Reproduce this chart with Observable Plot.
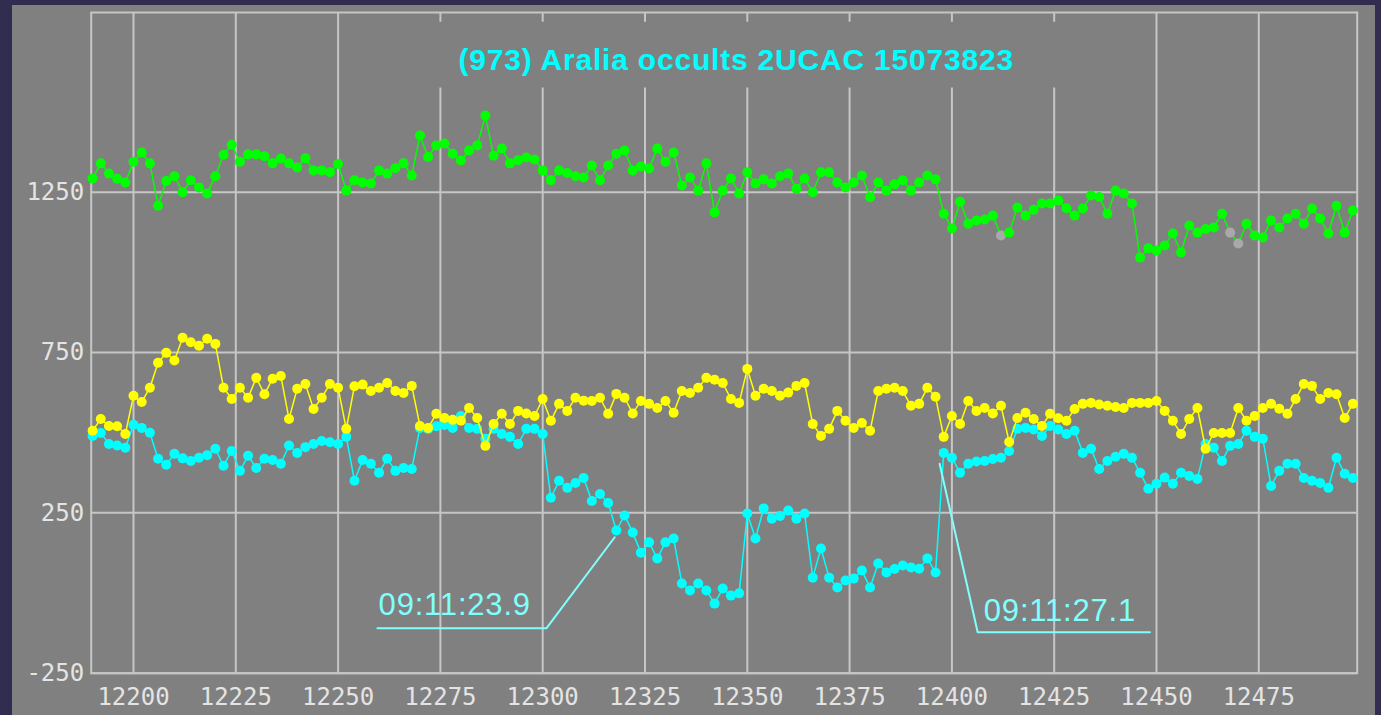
<!DOCTYPE html>
<html><head><meta charset="utf-8">
<script src="https://cdn.jsdelivr.net/npm/d3@7"></script>
<script src="https://cdn.jsdelivr.net/npm/@observablehq/plot@0.6"></script>
<style>
html,body{margin:0;padding:0;background:#302d50;width:1381px;height:715px;overflow:hidden}
#panel{position:absolute;left:12px;top:5px;width:1363px;height:710px;background:#808080}
</style></head><body><div id="panel"></div>
<script>
// frame numbers: first frame and step between readings
const frameStart = 12190;
const frameStep = 2;

const greenValues = [
  1293,1340,1308,1292,1280,1345,1374,1340,1208,1285,
  1300,1250,1287,1265,1246,1300,1367,1398,1345,1368,
  1368,1362,1340,1355,1340,1327,1356,1318,1318,1312,
  1338,1255,1287,1280,1277,1318,1308,1325,1340,1302,
  1427,1360,1396,1402,1370,1349,1380,1396,1489,1364,
  1386,1340,1350,1358,1352,1318,1287,1318,1310,1300,
  1296,1333,1287,1333,1370,1380,1318,1330,1324,1386,
  1345,1374,1271,1296,1255,1340,1187,1255,1293,1246,
  1312,1277,1290,1277,1300,1308,1261,1293,1250,1312,
  1312,1280,1265,1280,1302,1234,1280,1255,1275,1287,
  1255,1280,1302,1290,1183,1137,1220,1152,1162,1165,
  1177,1115,1124,1202,1177,1195,1215,1215,1224,1200,
  1177,1199,1240,1235,1183,1255,1246,1215,1046,1075,
  1068,1084,1121,1062,1146,1124,1135,1140,1183,1124,
  1090,1152,1115,1109,1162,1140,1168,1183,1152,1199,
  1168,1121,1208,1124,1193
];
const yellowValues = [
  506,543,521,520,496,615,596,640,718,749,
  725,796,782,771,793,777,640,605,640,609,
  671,620,668,677,543,637,652,574,609,652,
  640,512,645,650,630,640,655,630,624,646,
  521,515,559,546,540,537,577,546,459,527,
  559,527,568,560,552,605,537,590,568,609,
  600,599,609,559,621,609,560,599,590,577,
  599,562,630,624,640,671,665,655,605,593,
  699,615,637,630,615,625,646,655,527,490,
  512,568,537,515,530,506,630,637,640,630,
  584,590,640,612,487,552,527,599,568,577,
  560,584,471,546,562,543,521,559,545,537,
  574,590,593,588,584,580,577,593,593,593,
  599,568,537,496,543,577,450,499,499,499,
  577,537,552,577,590,575,559,605,652,646,
  605,624,620,546,590
];
const cyanValues = [
  490,499,465,460,453,525,515,500,419,400,
  434,420,412,422,430,450,397,443,381,428,
  390,419,415,403,460,437,455,465,474,470,
  465,487,350,415,403,375,419,381,390,387,
  515,512,520,524,515,552,515,512,481,512,
  496,487,465,512,512,496,297,350,328,343,
  359,287,309,281,195,242,189,126,158,108,
  158,170,30,8,30,8,-33,14,-8,-1,
  248,170,264,232,240,257,232,248,48,139,
  48,17,39,45,70,17,92,64,75,86,
  80,76,108,64,437,422,375,403,410,412,
  418,422,443,512,515,510,490,521,510,496,
  506,437,450,387,412,425,434,422,375,325,
  341,360,341,375,365,356,465,453,412,459,
  465,506,487,481,334,381,403,403,359,350,
  343,328,422,372,359
];
// green frames drawn grey in the original
const greyFrames = [12412, 12468, 12470];

const xTicks = [12200, 12225, 12250, 12275, 12300, 12325, 12350, 12375, 12400, 12425, 12450, 12475];
const yTicks = [-250, 250, 750, 1250];

const titleText = "(973) Aralia occults 2UCAC 15073823";
const eventLabels = ["09:11:23.9", "09:11:27.1"];
const eventLabelFrames = [12259.9, 12407.8];
const eventLabelValues = [-67, -86];
const leaderFrames = [[12259.6, 12300.9, 12317.6], [12397.0, 12406.3, 12448.4]];
const leaderValues = [[-110, -110, 174], [403, -122, -122]];
const titleBox = {x1: 12273, x2: 12428, y1: 1575, y2: 1780};

const toRows = vals => vals.map((v, i) => ({frame: frameStart + i * frameStep, value: v}));
const green = toRows(greenValues), yellow = toRows(yellowValues), cyan = toRows(cyanValues);

const GRID = "#c6c6c6";
const labelFont = "'DejaVu Sans Mono', monospace";
const sans = "'Liberation Sans', Arial, sans-serif";

const seriesMarks = (rows, color, fillFn) => [
  Plot.line(rows, {x: "frame", y: "value", stroke: color, strokeWidth: 1.5}),
  Plot.dot(rows, {x: "frame", y: "value", r: 5, fill: fillFn || color, stroke: "none"})
];

const leaders = leaderFrames.map((fr, k) => fr.map((f, j) => ({frame: f, value: leaderValues[k][j]})));

const chart = Plot.plot({
  width: 1363, height: 710,
  marginLeft: 78.7, marginRight: 18.3, marginTop: 7, marginBottom: 42.3,
  style: {background: "transparent", overflow: "visible"},
  x: {domain: [12189.66, 12499.05]},
  y: {domain: [-250, 1810.4]},
  color: {type: "identity"},
  marks: [
    Plot.ruleX(xTicks, {stroke: GRID, strokeWidth: 2}),
    Plot.ruleY(yTicks, {stroke: GRID, strokeWidth: 2}),
    Plot.frame({stroke: GRID, strokeWidth: 2}),
    Plot.rect([titleBox], {x1: "x1", x2: "x2", y1: "y1", y2: "y2", fill: "#808080"}),
    Plot.text([titleText], {frameAnchor: "top", text: d => d, dx: 12, dy: 57, lineAnchor: "bottom",
      fill: "#00ffff", fontSize: 30, fontWeight: "bold", fontFamily: sans}),
    ...seriesMarks(green, "#00ff00", d => greyFrames.includes(d.frame) ? "#a9a9a9" : "#00ff00"),
    ...seriesMarks(cyan, "#00ffff"),
    ...seriesMarks(yellow, "#ffff00"),
    ...leaders.map(pts => Plot.line(pts, {x: "frame", y: "value", stroke: "#80ffff", strokeWidth: 2})),
    Plot.text(eventLabels, {x: (d, i) => eventLabelFrames[i], y: (d, i) => eventLabelValues[i], text: d => d,
      textAnchor: "start", lineAnchor: "bottom", fill: "#80ffff", fontSize: 31, fontFamily: sans}),
    Plot.axisX(xTicks, {tickSize: 0, tickPadding: 15, tickFormat: d => String(d), fontSize: 24, fontFamily: labelFont, fill: "#e4e4e4", label: null}),
    Plot.axisY(yTicks, {tickSize: 0, tickPadding: 7, tickFormat: d => String(d), fontSize: 24, fontFamily: labelFont, fill: "#e4e4e4", label: null})
  ]
});
document.getElementById("panel").appendChild(chart);
d3.select(chart).selectAll("text").filter(function(){ return this.textContent === titleText; }).style("letter-spacing", "0.8px");
d3.select(chart).selectAll("text").filter(function(){ return eventLabels.includes(this.textContent); }).style("letter-spacing", "0.8px");
</script></body></html>
